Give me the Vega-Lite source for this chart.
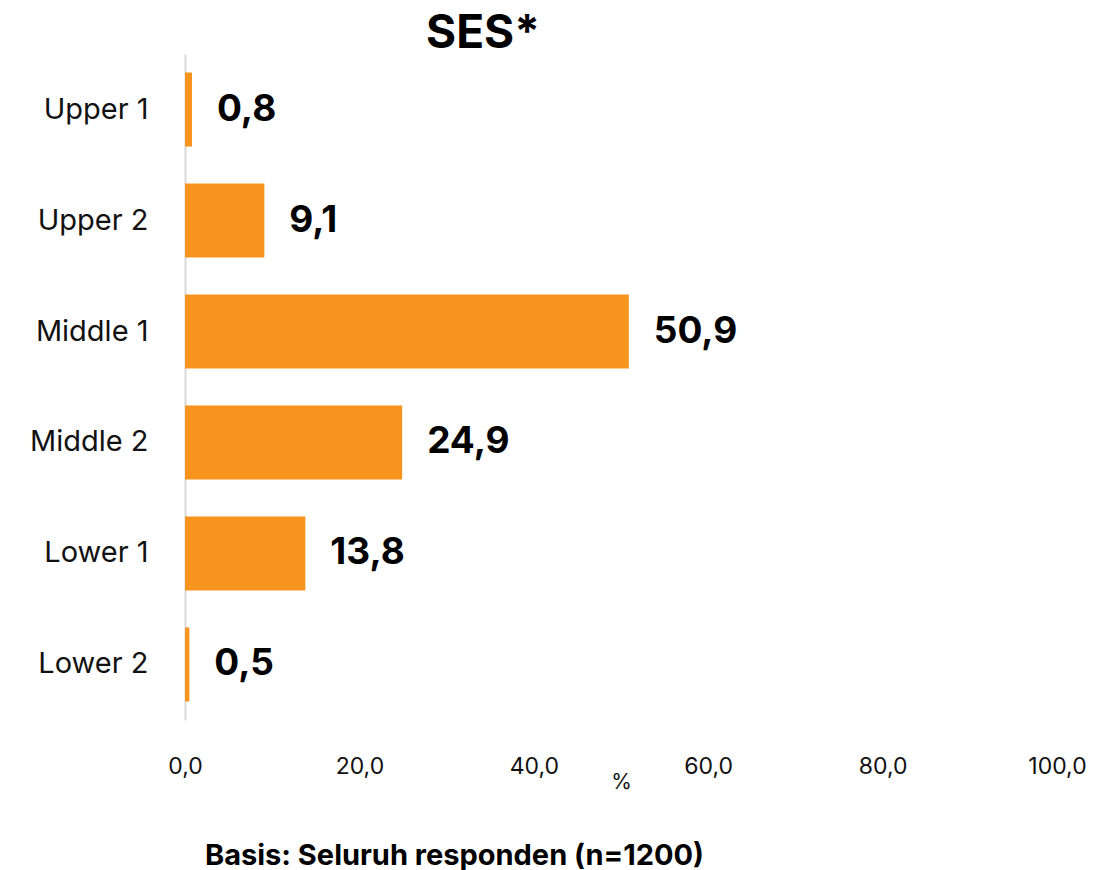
{
  "$schema": "https://vega.github.io/schema/vega-lite/v6.json",
  "autosize": "none",
  "width": 872,
  "height": 666,
  "padding": {"left": 185, "top": 54, "right": 36, "bottom": 150},
  "background": "white",
  "config": {
    "font": "Inter",
    "view": {"stroke": null},
    "locale": {"number": {"decimal": ",", "thousands": ".", "grouping": [3], "currency": ["", ""]}}
  },
  "title": {"text": "SES*", "fontSize": 46, "fontWeight": "bold", "color": "#000000", "anchor": "middle", "dx": -138, "offset": -4, "font": "Inter"},
  "data": {"values": [
    {"cat": "Upper 1", "v": 0.8},
    {"cat": "Upper 2", "v": 9.1},
    {"cat": "Middle 1", "v": 50.9},
    {"cat": "Middle 2", "v": 24.9},
    {"cat": "Lower 1", "v": 13.8},
    {"cat": "Lower 2", "v": 0.5}
  ]},
  "encoding": {
    "y": {"field": "cat", "type": "nominal", "sort": null,
      "scale": {"paddingInner": 0.333, "paddingOuter": 0.167},
      "axis": {"title": null, "ticks": false, "domainColor": "#d9d9d9", "domainWidth": 2, "labelFontSize": 29, "labelColor": "#111111", "labelPadding": 37, "labelFont": "Inter"}}
  },
  "layer": [
    {
      "mark": {"type": "bar", "color": "#F7941D"},
      "encoding": {
        "x": {"field": "v", "type": "quantitative", "scale": {"domain": [0, 100]},
          "axis": {"values": [0, 20, 40, 60, 80, 100], "format": ".1f", "grid": false, "ticks": false, "domain": false, "labelFontSize": 23, "labelColor": "#111111", "labelPadding": 35, "labelFlush": false,
            "title": "%", "titleFontSize": 21, "titleFontWeight": "normal", "titleColor": "#111111", "titleY": 62, "titleBaseline": "middle"}}
      }
    },
    {
      "mark": {"type": "text", "align": "left", "baseline": "middle", "dx": 25, "fontSize": 37, "fontWeight": "bold", "color": "#000000"},
      "encoding": {
        "x": {"field": "v", "type": "quantitative", "scale": {"domain": [0, 100]},
          "axis": {"orient": "bottom", "labels": false, "ticks": false, "domain": false, "grid": false,
            "title": "Basis: Seluruh responden (n=1200)", "titleFontSize": 29, "titleFontWeight": "bold", "titleColor": "#000000", "titleX": 269, "titleY": 135, "titleBaseline": "middle"}},
        "text": {"field": "v", "type": "quantitative", "format": ".1f"}
      }
    }
  ],
  "resolve": {"axis": {"x": "independent"}}
}
